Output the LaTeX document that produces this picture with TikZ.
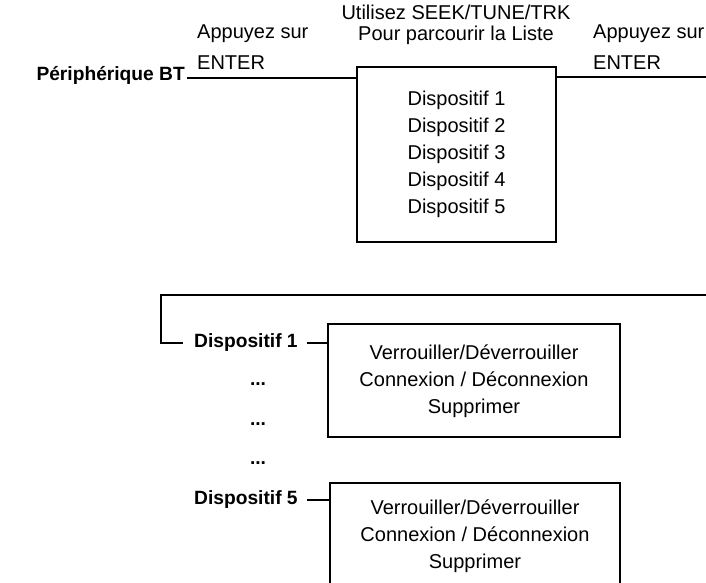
\documentclass[tikz,border=0pt]{standalone}
\usepackage{fontspec}
\setmainfont{Liberation Sans}
\begin{document}
\begin{tikzpicture}[x=1pt,y=-1pt,
  txt/.style={inner sep=0pt,font=\fontsize{20}{27}\selectfont},
  btxt/.style={inner sep=0pt,font=\fontsize{19.2}{27}\selectfont\bfseries},
  boxed/.style={draw,line width=1.2pt,inner sep=0pt,rectangle},
  wire/.style={line width=1.2pt}]
\useasboundingbox (0,0) rectangle (706,582);
\clip (0,0) rectangle (706,582);
% top part
\node[btxt,anchor=east] (bt) at (185,75) {Périphérique BT};
\node[txt,anchor=west] (ap1) at (197,34) {Appuyez sur};
\node[txt,anchor=west] (en1) at (197,63) {ENTER};
\node[txt] (u1) at (456,12) {Utilisez SEEK/TUNE/TRK};
\node[txt] (u2) at (456,35) {Pour parcourir la Liste};
\node[txt,anchor=west] (ap2) at (593,34) {Appuyez sur};
\node[txt,anchor=west] (en2) at (593,63) {ENTER};
\node[boxed,minimum width=199pt,minimum height=175pt] (lb) at (456.5,154.5) {};
\node[txt,align=center] (list) at (456.5,154) {Dispositif 1\\Dispositif 2\\Dispositif 3\\Dispositif 4\\Dispositif 5};
\coordinate (re) at (706,77);
\draw[wire] ([xshift=2pt,yshift=-3pt]bt.east) -- ([yshift=-3pt]bt.east -| lb.west);
\draw[wire] (re -| lb.east) -- (re);
% lower part
\coordinate (lr) at (706,295);
\coordinate (lc) at (161,295);
\node[btxt,anchor=west] (d1) at (194,343) {Dispositif 1};
\node[btxt,anchor=west] (d5) at (194,500) {Dispositif 5};
\node[btxt] (e1) at (258,384) {...};
\node[btxt] (e2) at (258,424) {...};
\node[btxt] (e3) at (258,463) {...};
\node[boxed,minimum width=292pt,minimum height=113pt] (b1) at (474,380.5) {};
\node[txt,align=center] (m1) at (474,381) {Verrouiller/Déverrouiller\\Connexion / Déconnexion\\Supprimer};
\node[boxed,minimum width=290pt,minimum height=117pt] (b5) at (475,541.5) {};
\node[txt,align=center] (m5) at (475,536) {Verrouiller/Déverrouiller\\Connexion / Déconnexion\\Supprimer};
\draw[wire] (lr) -- (lc) |- ([xshift=-11pt]d1.west);
\draw[wire] ([xshift=9pt]d1.east) -- (d1.east -| b1.west);
\draw[wire] ([xshift=9pt]d5.east) -- (d5.east -| b5.west);
\end{tikzpicture}
\end{document}
